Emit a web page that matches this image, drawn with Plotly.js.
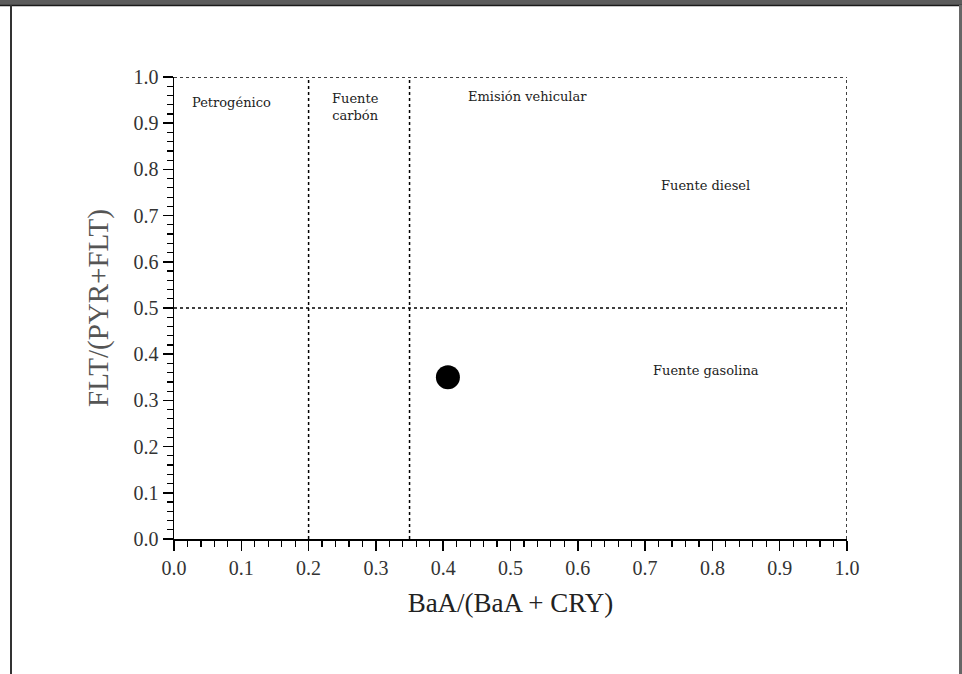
<!DOCTYPE html>
<html>
<head>
<meta charset="utf-8">
<script src="https://cdn.plot.ly/plotly-3.0.1.min.js"></script>
<style>html,body{margin:0;padding:0;background:#fff;}#chart{width:962px;height:674px;}</style>
</head>
<body>
<div id="chart"></div>
<script>
// Data
const sampleX = [0.407];
const sampleY = [0.35];
const xTitle = "BaA/(BaA + CRY)";
const yTitle = "FLT/(PYR+FLT)";
const xDividers = [0.2, 0.35];
const yDividers = [0.5];
const regionLabels = ["Petrogénico", "Fuente<br>carbón", "Emisión vehicular", "Fuente diesel", "Fuente gasolina"];
const regionX = [0.086, 0.269, 0.525, 0.79, 0.79];
const regionY = [0.944, 0.935, 0.957, 0.766, 0.364];

const serif = "Liberation Serif, Times New Roman, serif";
const wideSerif = "DejaVu Serif, serif";

const shapes = [];
xDividers.forEach(v => shapes.push({type:'line', xref:'x', yref:'y', x0:v, x1:v, y0:0, y1:1, line:{color:'#000', width:1.5, dash:'dot'}}));
yDividers.forEach(v => shapes.push({type:'line', xref:'x', yref:'y', x0:0, x1:1, y0:v, y1:v, line:{color:'#000', width:1.5, dash:'dot'}}));
// top and right dotted borders
shapes.push({type:'line', xref:'x', yref:'y', x0:0, x1:1, y0:1, y1:1, line:{color:'#000', width:1.5, dash:'dot'}});
shapes.push({type:'line', xref:'x', yref:'y', x0:1, x1:1, y0:0, y1:1, line:{color:'#000', width:1.5, dash:'dot'}});

// page frame (pixel -> paper conversion)
const L = 174, R = 847, T = 77, B = 539;
const px = p => (p - L) / (R - L);
const py = p => (B - p) / (B - T);
shapes.push({type:'rect', xref:'paper', yref:'paper', x0:px(-2), x1:px(964), y0:py(-2), y1:py(5), fillcolor:'#5c5c5c', line:{width:0}, layer:'above'});
shapes.push({type:'line', xref:'paper', yref:'paper', x0:px(0), x1:px(962), y0:py(5.5), y1:py(5.5), line:{color:'#1a1a1a', width:1.5}});
shapes.push({type:'line', xref:'paper', yref:'paper', x0:px(11), x1:px(11), y0:py(5), y1:py(676), line:{color:'#333', width:2}});
shapes.push({type:'rect', xref:'paper', yref:'paper', x0:px(959), x1:px(964), y0:py(5), y1:py(676), fillcolor:'#666', line:{width:0}});

const annotations = regionLabels.map((t, i) => ({
  x: regionX[i], y: regionY[i], xref:'x', yref:'y', text: t, showarrow:false,
  font:{family:wideSerif, size:13, color:'#222'}, align:'center'
}));

const trace = {
  x: sampleX, y: sampleY, type:'scatter', mode:'markers',
  marker:{size:24, color:'#000'}, hoverinfo:'skip'
};

const axisCommon = {
  range:[0,1], dtick:0.1, tick0:0, tickformat:'.1f',
  showgrid:false, zeroline:false, showline:true, linecolor:'#000', linewidth:1.5,
  ticks:'outside', ticklen:10, tickwidth:1.5, tickcolor:'#000',
  minor:{dtick:0.02, ticks:'outside', ticklen:6, tickwidth:1.2, tickcolor:'#000', showgrid:false},
  tickfont:{family:serif, size:20, color:'#333'}, fixedrange:true
};

const layout = {
  width:962, height:674,
  margin:{l:L, r:962-R, t:T, b:674-B},
  paper_bgcolor:'#fff', plot_bgcolor:'#fff',
  showlegend:false,
  xaxis:Object.assign({}, axisCommon, {title:{text:xTitle, font:{family:serif, size:27, color:'#222'}, standoff:15}}),
  yaxis:Object.assign({}, axisCommon, {title:{text:yTitle, font:{family:serif, size:29, color:'#555'}, standoff:16}}),
  shapes: shapes,
  annotations: annotations
};

Plotly.newPlot('chart', [trace], layout, {displayModeBar:false, staticPlot:true});
</script>
</body>
</html>
